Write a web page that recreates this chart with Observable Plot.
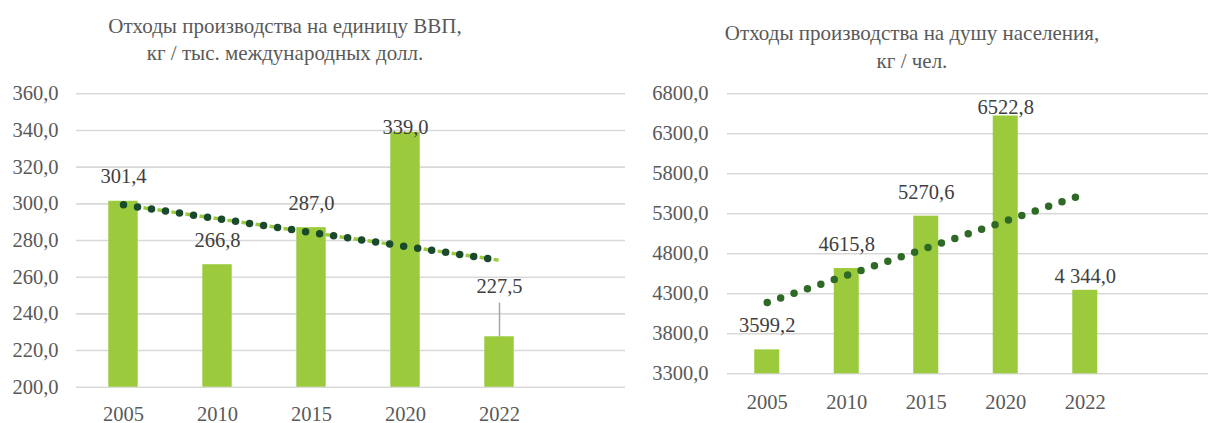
<!DOCTYPE html>
<html><head><meta charset="utf-8">
<script src="https://cdn.jsdelivr.net/npm/d3@7"></script>
<script src="https://cdn.jsdelivr.net/npm/@observablehq/plot@0.6"></script>
<style>
html,body{margin:0;padding:0;background:#fff;}
body{width:1208px;height:423px;position:relative;overflow:hidden;font-family:"Liberation Serif","Times New Roman",serif;}
.title{position:absolute;text-align:center;color:#595959;font-size:21px;white-space:nowrap;}
.chart{position:absolute;top:0;}
</style></head><body>
<div class="title" style="left:85px;width:400px;top:13px;line-height:26.7px;">Отходы производства на единицу ВВП,<br>кг / тыс. международных долл.</div>
<div class="title" style="left:702px;width:420px;top:19px;line-height:28.4px;">Отходы производства на душу населения,<br>кг / чел.</div>
<div class="chart" id="left" style="left:0;"></div>
<div class="chart" id="right" style="left:626px;"></div>
<script>
const years = ["2005", "2010", "2015", "2020", "2022"];
const gdpWaste = [301.4, 266.8, 287.0, 339.0, 227.5];
const gdpLabels = ["301,4", "266,8", "287,0", "339,0", "227,5"];
const gdpTicks = [200, 220, 240, 260, 280, 300, 320, 340, 360];
const capitaWaste = [3599.2, 4615.8, 5270.6, 6522.8, 4344.0];
const capitaLabels = ["3599,2", "4615,8", "5270,6", "6522,8", "4 344,0"];
const capitaTicks = [3300, 3800, 4300, 4800, 5300, 5800, 6300, 6800];

const barColor = "#9BCB3C";
const fmt = d => d.toFixed(1).replace(".", ",");
const rowsOf = (vals, labels) => years.map((y, k) => ({pos: k + 1, year: y, value: vals[k], label: labels[k]}));

function chart(cfg) {
  const rows = cfg.rows;
  const y0 = cfg.ticks[0];
  const marks = [
    Plot.ruleY(cfg.ticks, {stroke: "#D9D9D9", strokeWidth: 1.6}),
    Plot.rectY(rows, {x1: d => d.pos - 0.5, x2: d => d.pos + 0.5, y1: y0, y2: "value", fill: barColor, insetLeft: cfg.inset, insetRight: cfg.inset}),
  ];
  if (cfg.lightTrend) {
    marks.push(Plot.linearRegressionY(rows, {x: "pos", y: "value", ci: 0, stroke: barColor, strokeWidth: 3.5, strokeDasharray: "0 6 5 3.16", strokeLinecap: "butt"}));
  }
  marks.push(Plot.linearRegressionY(rows, {x: "pos", y: "value", ci: 0, stroke: cfg.trendColor, strokeWidth: 7.5, strokeDasharray: "0 14.16", strokeLinecap: "round"}));
  for (const g of cfg.labelGroups) {
    marks.push(Plot.text(rows, {filter: d => g.years.includes(d.year), x: "pos", y: "value", text: "label", dy: g.dy, fill: "#404040", fontSize: 20.5}));
  }
  if (cfg.leader) {
    marks.push(Plot.ruleX(rows, {filter: d => d.year === cfg.leader.year, x: "pos", y1: "value", y2: "value", insetTop: cfg.leader.up, stroke: "#A6A6A6", strokeWidth: 1.5}));
  }
  marks.push(Plot.axisY(cfg.ticks, {tickSize: 0, tickPadding: cfg.yPad, tickFormat: fmt, fill: "#595959", label: null}));
  marks.push(Plot.axisX(rows.map(d => d.pos), {tickSize: 0, tickPadding: cfg.xPad, tickFormat: d => years[d - 1], fill: "#595959", label: null}));
  return Plot.plot({
    width: cfg.width, height: 423,
    marginTop: cfg.top, marginBottom: 423 - cfg.bottom, marginLeft: cfg.marginLeft, marginRight: 0,
    x: {type: "linear", domain: [0.5, cfg.xMax], label: null},
    y: {domain: [cfg.ticks[0], cfg.ticks[cfg.ticks.length - 1]], label: null},
    style: {fontFamily: '"Liberation Serif","Times New Roman",serif', fontSize: "20.5px", color: "#595959", background: "transparent", overflow: "visible"},
    marks
  });
}

document.getElementById("left").append(chart({
  rows: rowsOf(gdpWaste, gdpLabels), ticks: gdpTicks,
  width: 625, marginLeft: 76, top: 93.3, bottom: 386.7, xMax: 0.5 + 549 / 94, inset: 32.3,
  trendColor: "#1A4A2C", lightTrend: true, yPad: 18, xPad: 19,
  labelGroups: [{years: ["2005", "2010", "2015"], dy: -24.5}, {years: ["2020"], dy: -5}, {years: ["2022"], dy: -50}],
  leader: {year: "2022", up: -33.7}
}));
document.getElementById("right").append(chart({
  rows: rowsOf(capitaWaste, capitaLabels), ticks: capitaTicks,
  width: 582, marginLeft: 101, top: 93.3, bottom: 373.3, xMax: 0.5 + 481 / 79.5, inset: 27.25,
  trendColor: "#2E6A25", lightTrend: false, yPad: 19, xPad: 21,
  labelGroups: [{years: ["2005", "2010", "2015"], dy: -24}, {years: ["2020"], dy: -9}, {years: ["2022"], dy: -14}],
  leader: null
}));
</script>
</body></html>
